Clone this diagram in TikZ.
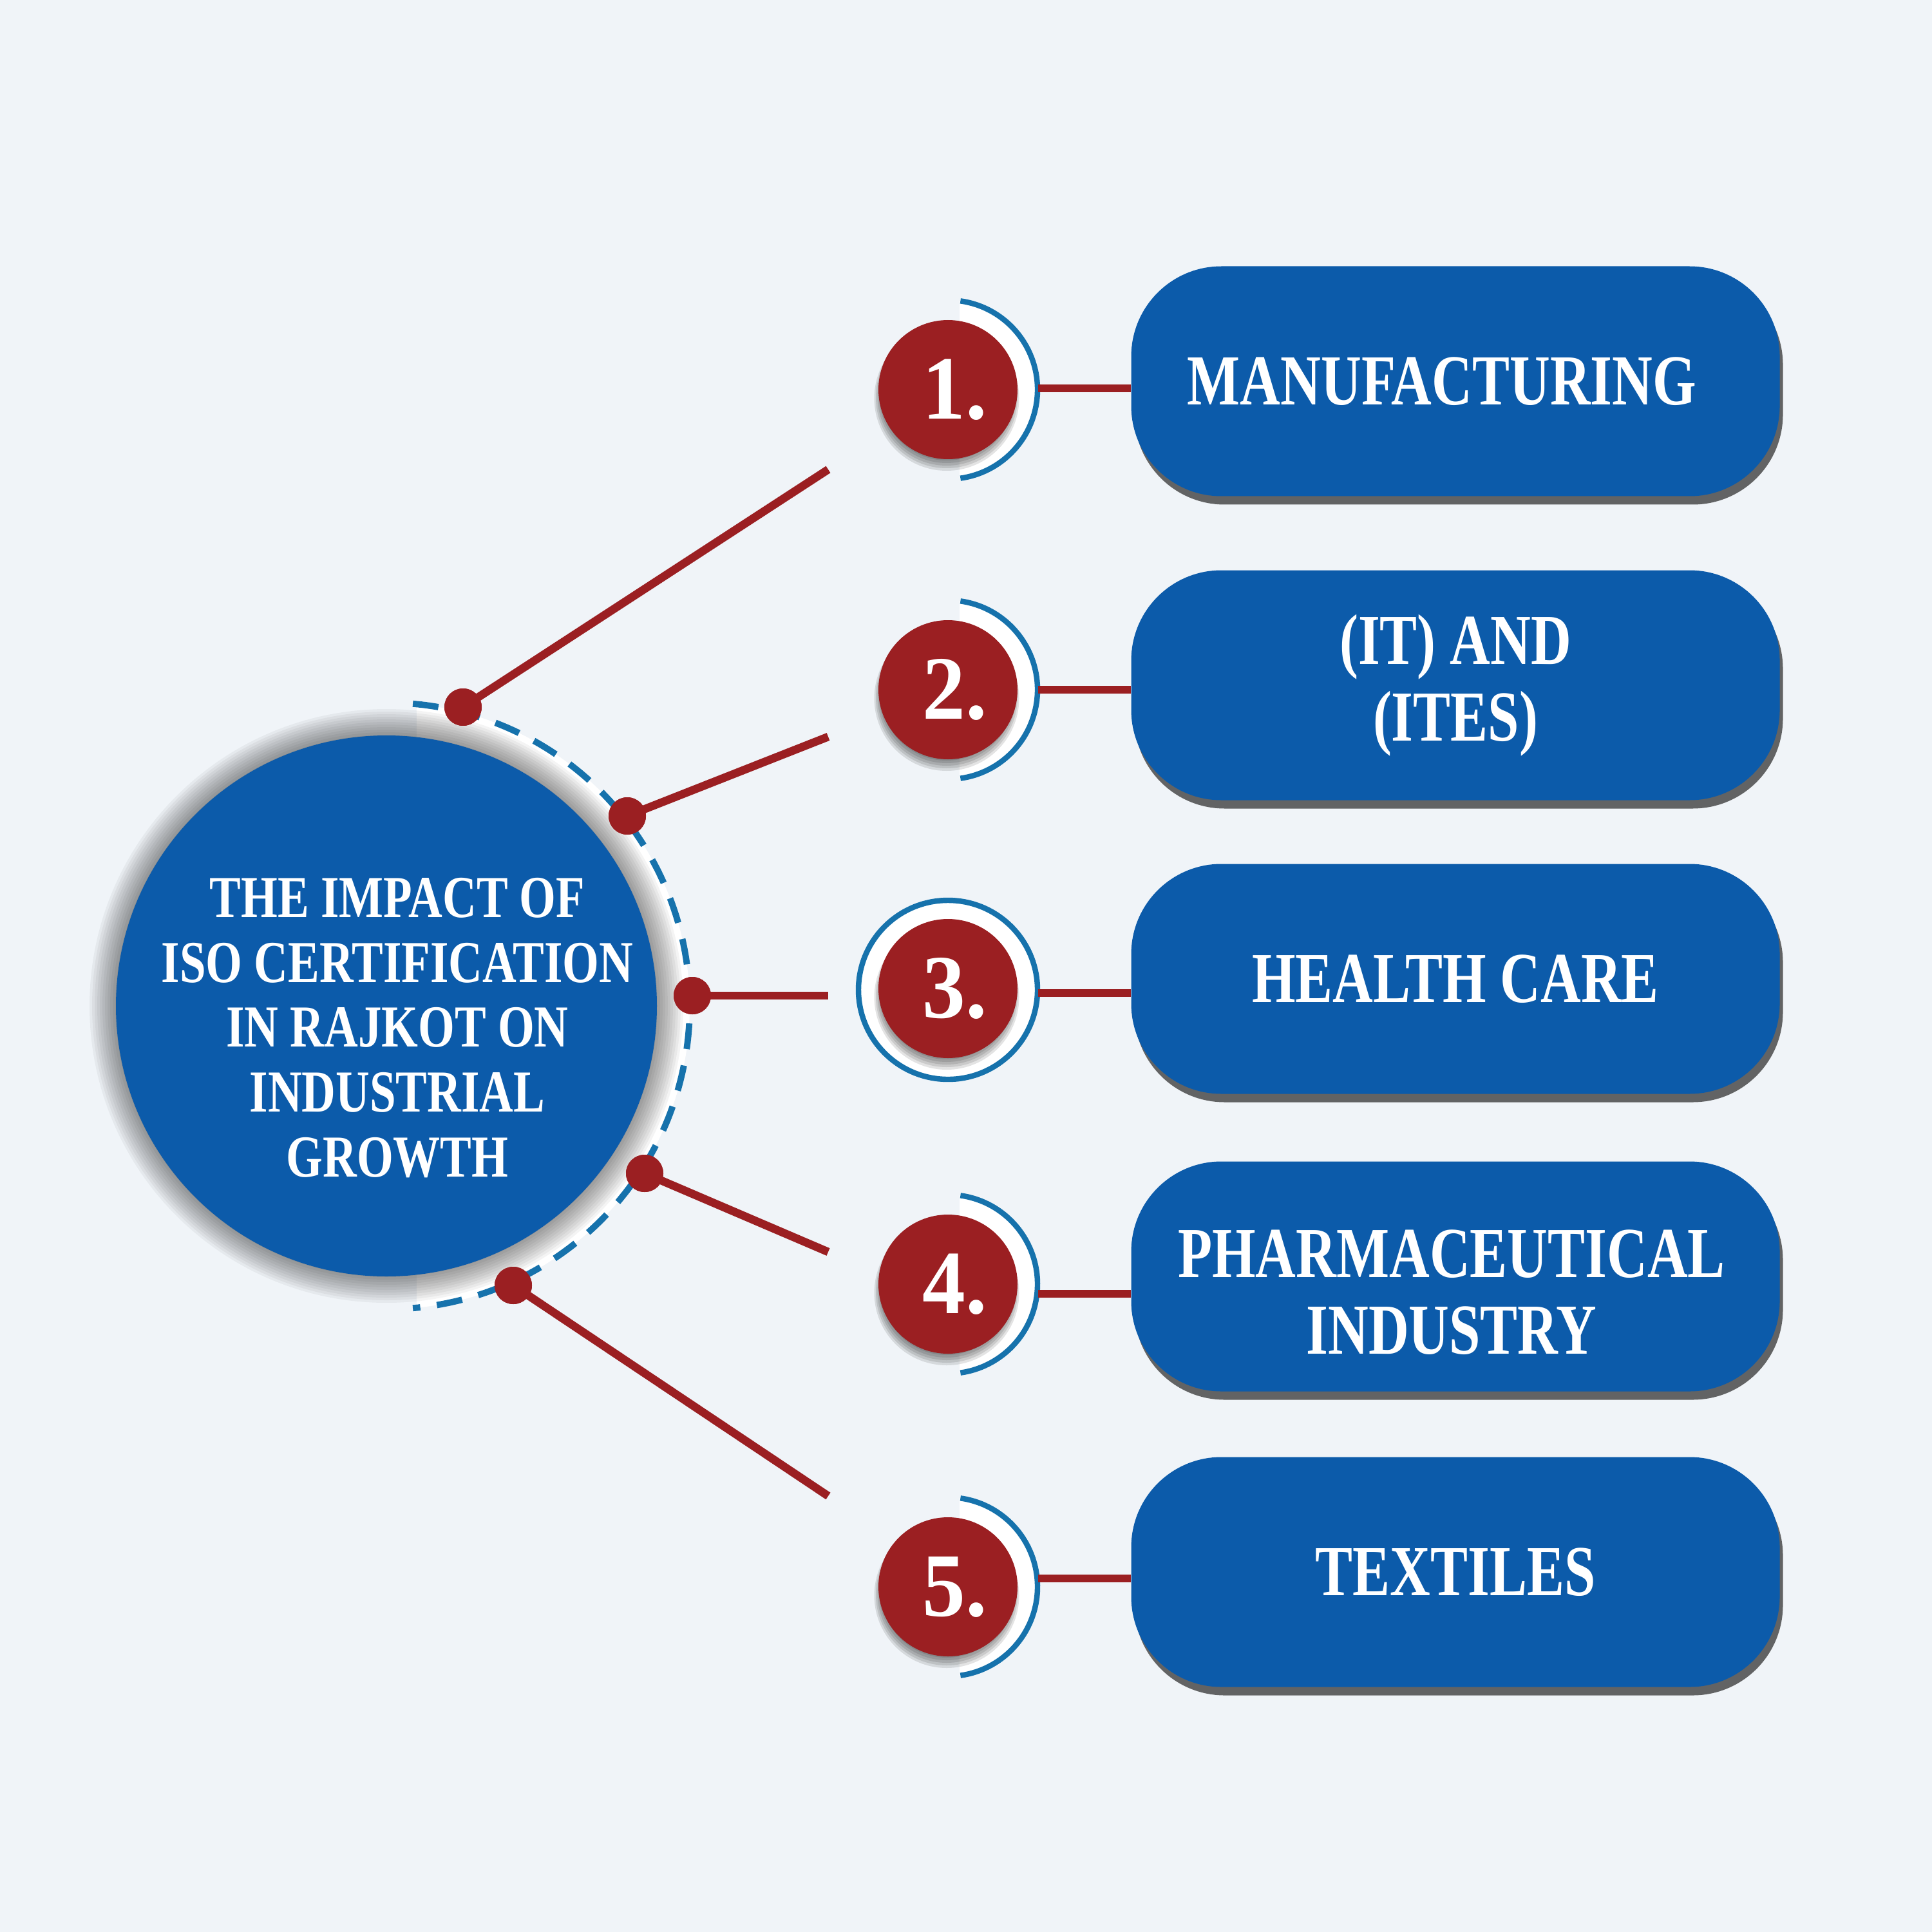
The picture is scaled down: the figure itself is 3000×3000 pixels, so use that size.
\documentclass[tikz,border=0pt]{standalone}
\usepackage{fontspec}
\setmainfont{Liberation Serif}
\newfontfamily\ctrfont[FakeStretch=0.79]{Liberation Serif Bold}
\newfontfamily\pillfont[FakeStretch=0.78]{Liberation Serif Bold}
\newfontfamily\numfont[FakeStretch=0.95]{Liberation Serif Bold}
\usetikzlibrary{shadows}
\definecolor{bgc}{RGB}{240,244,248}
\definecolor{mainblue}{RGB}{12,91,170}
\definecolor{arcblue}{RGB}{22,114,172}
\definecolor{darkred}{RGB}{155,31,34}
\begin{document}
\begin{tikzpicture}[x=0.1mm,y=-0.1mm,
  pilltext/.style={inner sep=0, align=center, text=white,
    font=\pillfont\fontsize{31.7}{33.8}\selectfont},
  pill/.style={pilltext, fill=mainblue, rounded corners=14mm, minimum width=100.7mm, minimum height=35.7mm,
    drop shadow={shadow xshift=0.5mm, shadow yshift=-1.3mm, opacity=0.7, fill=black!85}},
  numc/.style={circle, fill=darkred, minimum size=21.6mm, inner sep=0, text=white,
    font=\numfont\fontsize{40}{40}\selectfont},
  dotc/.style={circle, fill=darkred, minimum size=5.8mm, inner sep=0},
  redline/.style={draw=darkred, line width=3.6pt},
  ring/.style={draw=arcblue, line width=2.4pt},
  dashring/.style={draw=arcblue, line width=2.8pt, dash pattern=on 4mm off 2.6mm},
]
\fill[bgc] (0,0) rectangle (3000,3000);
\useasboundingbox (0,0) rectangle (3000,3000);

% hub backdrop
\begin{scope}
  \clip (647,0) rectangle (3000,3000);
  \fill[white] (600,1562) circle (471);
\end{scope}
\foreach \r in {421,425,...,461} \fill[black, opacity=0.045] (600,1562) circle (\r);
\draw[dashring] (600,1562) ++(-85:471) arc[start angle=-85, end angle=85, radius=471];
\node[circle, fill=mainblue, minimum size=84mm, inner sep=0] (hub) at (600,1562) {};
\node[align=center, text=white, inner sep=0, font=\ctrfont\fontsize{26.3}{28.7}\selectfont] (hubtext) at (617,1596)
  {THE IMPACT OF\\ISO CERTIFICATION\\IN RAJKOT ON\\INDUSTRIAL\\GROWTH};

% long connectors
\coordinate (e1) at (1286,729);
\coordinate (e2) at (1286,1144);
\coordinate (e3) at (1286,1546);
\coordinate (e4) at (1286,1944);
\coordinate (e5) at (1286,2323);
\node[dotc] (d1) at (719,1098) {};
\node[dotc] (d2) at (974,1267) {};
\node[dotc] (d3) at (1075,1546) {};
\node[dotc] (d4) at (1001,1822) {};
\node[dotc] (d5) at (797,1996) {};
\foreach \i in {1,...,5} \draw[redline] (d\i.center) -- (e\i);
\foreach \i in {1,...,5} \node[dotc] at (d\i) {};

% number badges
\foreach \i/\y in {1/605,2/1071,4/1994,5/2464}{
  \begin{scope}
    \clip (1490,0) rectangle (3000,3000);
    \fill[white] (1472,\y) circle (139);
  \end{scope}
  \draw[ring] (1472,\y) ++(-82:139) arc[start angle=-82, end angle=82, radius=139];
}
\fill[white] (1472,1537) circle (139);
\draw[ring] (1472,1537) circle (139);

% soft shadows under badges
\foreach \y in {605,1071,1535,1994,2464}{
  \foreach \k in {0,...,5}
    \fill[black, opacity=0.11] (1470,\y+6+\k*1.5) circle (100+\k*2.5);
}

\node[numc] (n1) at (1472,605) {\kern6pt 1.};
\node[numc] (n2) at (1472,1071) {\kern6pt 2.};
\node[numc] (n3) at (1472,1535) {\kern6pt 3.};
\node[numc] (n4) at (1472,1994) {\kern6pt 4.};
\node[numc] (n5) at (1472,2464) {\kern6pt 5.};

% pills
\node[pill] (p1) at (2260,592) {MANUFACTURING\kern12pt};
\node[pill] (p2) at (2260,1064) {(IT) AND\\(ITES)};
\node[pill] (p3) at (2260,1520) {HEALTH CARE};
\node[pill] (p4) at (2260,1982) {};
\node[pilltext] (p4text) at (2254,2007) {PHARMACEUTICAL\\INDUSTRY};
\node[pill] (p5) at (2260,2441) {TEXTILES};

\foreach \i/\y in {1/603,2/1071,3/1542,4/2009,5/2451}{
  \coordinate (a\i) at (1612,\y);
  \draw[redline] (a\i) -- (a\i -| p\i.west);
}
\end{tikzpicture}
\end{document}
